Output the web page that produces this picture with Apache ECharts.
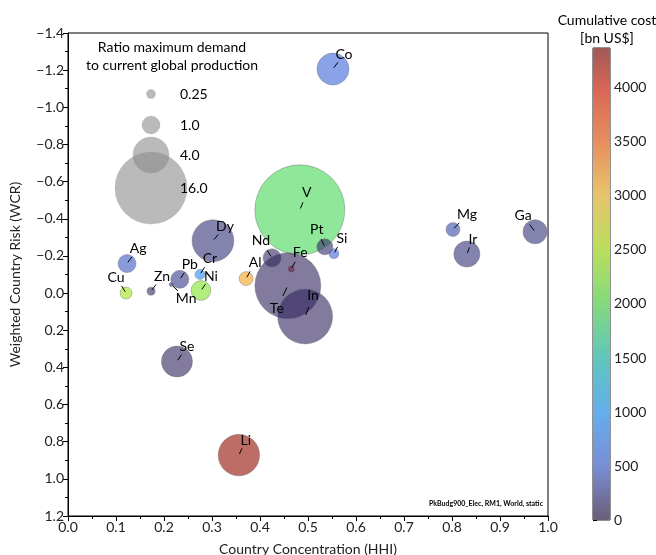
<!DOCTYPE html>
<html><head><meta charset="utf-8">
<script src="https://cdn.jsdelivr.net/npm/echarts@6/dist/echarts.min.js"></script>
<style>html,body{margin:0;padding:0;background:#fff}#c{width:656px;height:555px}</style>
</head><body><div id="c"></div>
<script>
// ---- data ----
const elements       = ['Co','V','Dy','Ag','Cu','Zn','Pb','Mn','Cr','Ni','Al','Nd','Fe','Pt','Si','Te','In','Se','Li','Mg','Ir','Ga'];
const hhi            = [0.552,0.483,0.302,0.123,0.121,0.173,0.233,0.215,0.275,0.277,0.371,0.425,0.465,0.535,0.554,0.458,0.494,0.227,0.356,0.802,0.831,0.973];
const wcr            = [-1.206,-0.448,-0.282,-0.159,0.0,-0.01,-0.074,-0.046,-0.10,-0.014,-0.078,-0.19,-0.13,-0.249,-0.212,-0.04,0.126,0.368,0.872,-0.342,-0.21,-0.33];
const demandRatio    = [3.16,25,5.4,1.0,0.44,0.2,1.0,0.05,0.31,1.2,0.6,1.0,0.11,0.8,0.31,13.4,9.3,2.97,5.3,0.6,2.1,1.8];
const cumulativeCost = [550,1900,200,450,2400,150,250,150,900,2250,3150,150,4000,150,550,120,120,120,4300,350,200,200];
const xTickValues    = [0,0.1,0.2,0.3,0.4,0.5,0.6,0.7,0.8,0.9,1.0];
const costTicks      = [0,500,1000,1500,2000,2500,3000,3500,4000];
const costMax        = 4370;
const sizeLegendValues = [0.25,1.0,4.0,16.0];
const sizeLegendLabels = ['0.25','1.0','4.0','16.0'];

// ---- label placement (pixel offsets of label centre from point centre) ----
const labelOffsets = [[11,-15],[7,-17],[12,-14],[11,-15],[-10,-16],[11,-15],[10,-15],[15,14],[10,-16],[10,-14],[9,-16],[-11,-17],[9,-16],[-8,-17],[8,-15],[-11,23],[8,-21],[10,-15],[7,-15],[14,-15],[6,-15],[-12,-16]];

const FONT = 'Lato, "Open Sans", sans-serif';
const radiusOf = v => 9 * Math.sqrt(v);

// colour map (turbo-like, alpha 0.6)
const cmStops = [[0,[40,15,55]],[500,[63,97,213]],[1000,[30,150,250]],[1500,[20,190,170]],[2000,[80,222,63]],[2500,[172,230,13]],[3000,[247,188,38]],[3500,[247,97,13]],[4000,[222,30,0]],[4370,[130,8,0]]];
function cmAt(v){
  for(let i=0;i<cmStops.length-1;i++){
    const a=cmStops[i], b=cmStops[i+1];
    if(v<=b[0]){const t=(v-a[0])/(b[0]-a[0]);
      const c=a[1].map((x,k)=>Math.round(x+(b[1][k]-x)*t));
      return 'rgba('+c.join(',')+',0.6)';}
  }
  return 'rgba('+cmStops[cmStops.length-1][1].join(',')+',0.6)';
}
const cmColors=[]; const N=60;
for(let i=0;i<=N;i++) cmColors.push(cmAt(costMax*i/N));

const bubbleData = elements.map((n,i)=>[hhi[i], wcr[i], demandRatio[i], cumulativeCost[i], n]);

// size legend + titles
const legendCenterY=[94,125,155,188];
const graphics=[];
graphics.push({type:'text', x:172, y:47, style:{text:'Ratio maximum demand', align:'center', verticalAlign:'middle', fontSize:14, fontFamily:FONT, fill:'#000'}});
graphics.push({type:'text', x:172, y:65, style:{text:'to current global production', align:'center', verticalAlign:'middle', fontSize:14, fontFamily:FONT, fill:'#000'}});
sizeLegendValues.forEach((v,i)=>{
  graphics.push({type:'circle', shape:{cx:151, cy:legendCenterY[i], r:radiusOf(v)}, style:{fill:'rgba(140,140,140,0.6)', stroke:'rgba(150,150,150,0.4)', lineWidth:0.7}, z:1});
  graphics.push({type:'text', x:180, y:legendCenterY[i], style:{text:sizeLegendLabels[i], align:'left', verticalAlign:'middle', fontSize:14, fontFamily:FONT, fill:'#000'}, z:2});
});
graphics.push({type:'text', x:607, y:20, style:{text:'Cumulative cost', align:'center', verticalAlign:'middle', fontSize:14, fontFamily:FONT, fill:'#000'}});
graphics.push({type:'text', x:607, y:38, style:{text:'[bn US$]', align:'center', verticalAlign:'middle', fontSize:14, fontFamily:FONT, fill:'#000'}});
graphics.push({type:'text', x:543, y:504, style:{text:'PkBudg900_Elec, RM1, World, static', align:'right', verticalAlign:'middle', fontSize:7, fontWeight:'bold', fontFamily:FONT, fill:'#000'}});

const chart = echarts.init(document.getElementById('c'), null, {renderer:'canvas'});
chart.setOption({
  backgroundColor:'#fff',
  animation:false,
  textStyle:{fontFamily:FONT},
  grid:[
    {left:68, top:33, width:480, height:483, show:true, borderColor:'#000', borderWidth:1, backgroundColor:'transparent', containLabel:false, outerBoundsMode:'none'},
    {left:593, top:48, width:17, height:472, show:true, borderColor:'#222', borderWidth:1, backgroundColor:'transparent', containLabel:false, outerBoundsMode:'none'}
  ],
  xAxis:[
    {type:'value', gridIndex:0, min:0, max:1, interval:0.1,
     name:'Country Concentration (HHI)', nameLocation:'middle', nameGap:26,
     nameTextStyle:{fontSize:14, color:'#222', fontFamily:FONT},
     axisLine:{show:true, onZero:false, lineStyle:{color:'#000'}},
     axisTick:{show:true, inside:false, length:5, lineStyle:{color:'#000'}},
     minorTick:{show:true, splitNumber:2, length:3, lineStyle:{color:'#000'}},
     axisLabel:{fontSize:14, color:'#222', margin:4, formatter:v=>v.toFixed(1)},
     splitLine:{show:false}},
    {type:'value', gridIndex:1, show:false, min:0, max:1}
  ],
  yAxis:[
    {type:'value', gridIndex:0, min:-1.4, max:1.2, interval:0.2, inverse:true,
     name:'Weighted Country Risk (WCR)', nameLocation:'middle', nameGap:46,
     nameTextStyle:{fontSize:14, color:'#222', fontFamily:FONT},
     axisLine:{show:true, onZero:false, lineStyle:{color:'#000'}},
     axisTick:{show:true, inside:false, length:5, lineStyle:{color:'#000'}},
     minorTick:{show:true, splitNumber:2, length:3, lineStyle:{color:'#000'}},
     axisLabel:{fontSize:14, color:'#222', margin:4, formatter:v=>(Math.abs(v)<1e-9?'0.0':v.toFixed(1).replace('-','\u2212'))},
     splitLine:{show:false}},
    {type:'value', gridIndex:1, position:'right', min:0, max:costMax,
     axisLine:{show:false},
     axisTick:{show:true, inside:false, length:4, lineStyle:{color:'#000'}, customValues:costTicks},
     axisLabel:{fontSize:14, color:'#222', margin:4, customValues:costTicks, formatter:v=>String(Math.round(v))},
     splitLine:{show:false}}
  ],
  visualMap:{
    type:'continuous', seriesIndex:0, dimension:3, min:0, max:costMax,
    orient:'vertical', left:593, top:48, itemWidth:17, itemHeight:472,
    padding:0, calculable:false, showLabel:false, text:null, realtime:false,
    inRange:{color:cmColors}
  },
  graphic:graphics,
  series:[
    {type:'scatter', xAxisIndex:0, yAxisIndex:0, data:bubbleData,
     symbolSize:d=>2*radiusOf(d[2]),
     itemStyle:{borderColor:'rgba(110,110,110,0.5)', borderWidth:0.8, opacity:1},
     z:2},
    {type:'custom', xAxisIndex:0, yAxisIndex:0, data:bubbleData, z:5,
     renderItem:(params, api)=>{
       const p = api.coord([api.value(0), api.value(1)]);
       const o = labelOffsets[params.dataIndex];
       return {type:'group', children:[
         {type:'line', shape:{x1:p[0]+o[0]*0.08, y1:p[1]+o[1]*0.08, x2:p[0]+o[0]*0.45, y2:p[1]+o[1]*0.45}, style:{stroke:'#000', lineWidth:1}},
         {type:'text', x:p[0]+o[0], y:p[1]+o[1], style:{text:elements[params.dataIndex], align:'center', verticalAlign:'middle', fontSize:14, fontFamily:FONT, fill:'#000'}}
       ]};
     }}
  ]
});
</script></body></html>
